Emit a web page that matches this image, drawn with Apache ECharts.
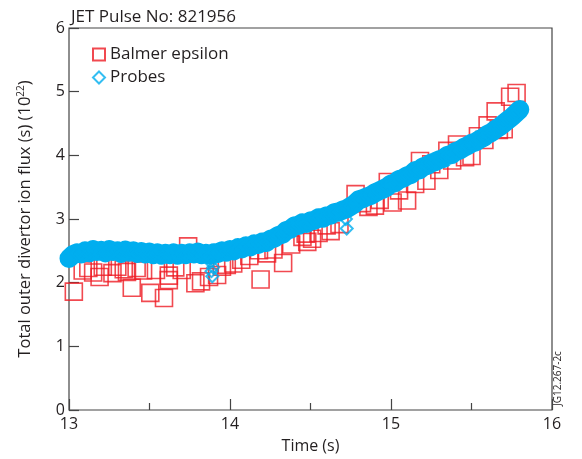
<!DOCTYPE html>
<html><head><meta charset="utf-8">
<script src="https://cdn.jsdelivr.net/npm/echarts@6/dist/echarts.min.js"></script>
<style>html,body{margin:0;padding:0;background:#fff}#c{width:582px;height:459px}</style>
</head><body><div id="c"></div>
<script>
const titleText = 'JET Pulse No: 821956';
const xTicks = [13, 14, 15, 16];
const yTicks = [0, 1, 2, 3, 4, 5, 6];

// Balmer epsilon (time s, flux 1e22)
const balmerTime = [13.03,13.085,13.12,13.15,13.19,13.21,13.27,13.30,13.34,13.36,13.39,13.42,13.46,13.505,13.54,13.59,13.62,13.62,13.66,13.70,13.74,13.785,13.82,13.87,13.92,13.95,13.98,14.02,14.07,14.12,14.18,14.19,14.23,14.27,14.33,14.38,14.45,14.47,14.48,14.51,14.55,14.60,14.625,14.68,14.78,14.82,14.86,14.90,14.93,14.98,15.01,15.05,15.10,15.15,15.18,15.22,15.25,15.30,15.35,15.38,15.41,15.46,15.50,15.54,15.58,15.60,15.65,15.67,15.70,15.74,15.78];
const balmerFlux = [1.86,2.19,2.23,2.16,2.09,2.25,2.15,2.25,2.21,2.17,1.92,2.23,2.19,1.84,2.20,1.76,2.11,2.04,2.24,2.20,2.57,1.99,2.02,2.09,2.12,2.25,2.28,2.30,2.36,2.42,2.51,2.05,2.46,2.52,2.31,2.60,2.72,2.77,2.64,2.69,2.78,2.90,2.81,2.92,3.39,3.25,3.19,3.21,3.30,3.58,3.26,3.45,3.29,3.55,3.91,3.60,3.86,3.77,4.07,3.92,4.17,3.97,3.99,4.30,4.24,4.47,4.69,4.40,4.41,4.92,4.98];

// Probes
const probeTime = [13.000,13.025,13.050,13.075,13.100,13.125,13.150,13.175,13.200,13.225,13.250,13.275,13.300,13.325,13.350,13.375,13.400,13.425,13.450,13.475,13.500,13.525,13.550,13.575,13.600,13.625,13.650,13.675,13.700,13.725,13.750,13.775,13.800,13.825,13.850,13.875,13.900,13.925,13.950,13.975,14.000,14.025,14.050,14.075,14.100,14.125,14.150,14.175,14.200,14.225,14.250,14.275,14.300,14.325,14.350,14.375,14.400,14.425,14.450,14.475,14.500,14.525,14.550,14.575,14.600,14.625,14.650,14.675,14.700,14.725,14.750,14.775,14.800,14.825,14.850,14.875,14.900,14.925,14.950,14.975,15.000,15.025,15.050,15.075,15.100,15.125,15.150,15.175,15.200,15.225,15.250,15.275,15.300,15.325,15.350,15.375,15.400,15.425,15.450,15.475,15.500,15.525,15.550,15.575,15.600,15.625,15.650,15.675,15.700,15.725,15.750,15.775,15.800];
const probeFlux = [2.38,2.44,2.47,2.45,2.50,2.47,2.52,2.49,2.51,2.47,2.52,2.49,2.50,2.46,2.51,2.48,2.50,2.46,2.49,2.45,2.48,2.44,2.47,2.43,2.46,2.44,2.47,2.43,2.46,2.44,2.47,2.45,2.48,2.44,2.46,2.43,2.47,2.46,2.50,2.48,2.52,2.50,2.55,2.53,2.58,2.56,2.61,2.60,2.64,2.63,2.68,2.70,2.74,2.76,2.82,2.84,2.89,2.90,2.94,2.93,2.97,2.98,3.02,3.01,3.05,3.06,3.10,3.11,3.14,3.16,3.20,3.24,3.30,3.32,3.35,3.37,3.41,3.44,3.47,3.50,3.55,3.57,3.62,3.64,3.68,3.70,3.76,3.77,3.82,3.84,3.88,3.90,3.93,3.95,4.00,4.01,4.06,4.08,4.12,4.15,4.19,4.21,4.25,4.28,4.33,4.36,4.41,4.45,4.50,4.55,4.60,4.66,4.72];
// outlying probe points (dips)
const probeDipTime = [13.88,13.885,13.89,13.895,14.72,14.725];
const probeDipFlux = [2.32,2.18,2.10,2.24,3.00,2.85];

const RED = '#ED1C24', CYAN = '#00AEEF', INK = '#231F20';
const FONT = 'Open Sans';

const balmerData = balmerTime.map((t, i) => [t, balmerFlux[i]]);
const probeLine = probeTime.map((t, i) => [t, probeFlux[i]]);
const probeData = probeLine.concat(probeDipTime.map((t, i) => [t, probeDipFlux[i]]));

const chart = echarts.init(document.getElementById('c'), null, {renderer: 'canvas'});
chart.setOption({
  animation: false,
  backgroundColor: '#fff',
  title: {text: titleText, left: 66, top: 4, textStyle: {fontFamily: FONT, fontSize: 17, fontWeight: 'normal', color: INK}},
  grid: {left: 69, right: 30, top: 28, bottom: 46, show: true, borderColor: '#444', borderWidth: 1.2, containLabel: false},
  legend: {
    data: ['Balmer epsilon', 'Probes'], orient: 'vertical', left: 87, top: 41,
    itemWidth: 12, itemHeight: 12, itemGap: 6,
    textStyle: {fontFamily: FONT, fontSize: 17, color: INK}
  },
  xAxis: {
    type: 'value', min: xTicks[0], max: xTicks[xTicks.length - 1], interval: 1,
    name: 'Time (s)', nameLocation: 'middle', nameGap: 28,
    nameTextStyle: {fontFamily: FONT, fontSize: 16, color: INK},
    axisLine: {show: false},
    axisTick: {show: true, inside: true, length: 11, lineStyle: {color: '#444', width: 1.2}},
    minorTick: {show: true, splitNumber: 2, length: 7, lineStyle: {color: '#444', width: 1.2}},
    splitLine: {show: false}, minorSplitLine: {show: false},
    axisLabel: {fontFamily: FONT, fontSize: 16, color: INK, margin: 6}
  },
  yAxis: {
    type: 'value', min: yTicks[0], max: yTicks[yTicks.length - 1], interval: 1,
    name: 'Total outer divertor ion flux (s) (10{sup|22})', nameLocation: 'middle', nameGap: 35, nameRotate: 90,
    nameTextStyle: {fontFamily: FONT, fontSize: 16.5, color: INK, rich: {sup: {fontFamily: FONT, fontSize: 10, color: INK, verticalAlign: 'top', padding: [0, 0, 8, 0]}}},
    axisLine: {show: false},
    axisTick: {show: true, inside: true, length: 10, lineStyle: {color: '#444', width: 1.2}},
    splitLine: {show: false},
    axisLabel: {fontFamily: FONT, fontSize: 16, color: INK, margin: 4}
  },
  series: [
    {
      name: 'Balmer epsilon', type: 'scatter', data: balmerData, symbol: 'rect', symbolSize: 17,
      itemStyle: {color: 'rgba(0,0,0,0)', borderColor: RED, borderWidth: 1.6}, z: 2
    },
    {
      name: 'ProbesBand', type: 'line', data: probeLine, showSymbol: false, symbol: 'none',
      lineStyle: {color: CYAN, width: 19, cap: 'round', join: 'round'}, z: 3, silent: true
    },
    {
      name: 'Probes', type: 'scatter', data: probeData, symbol: 'diamond', symbolSize: 12,
      itemStyle: {color: 'rgba(0,0,0,0)', borderColor: CYAN, borderWidth: 2}, z: 4
    }
  ],
  graphic: [{
    type: 'text', x: 558, y: 406, rotation: Math.PI / 2,
    style: {text: 'JG12.267-2c', fontFamily: FONT, fontSize: 10, fill: INK, textAlign: 'left', textVerticalAlign: 'middle'}
  }]
});
</script></body></html>
